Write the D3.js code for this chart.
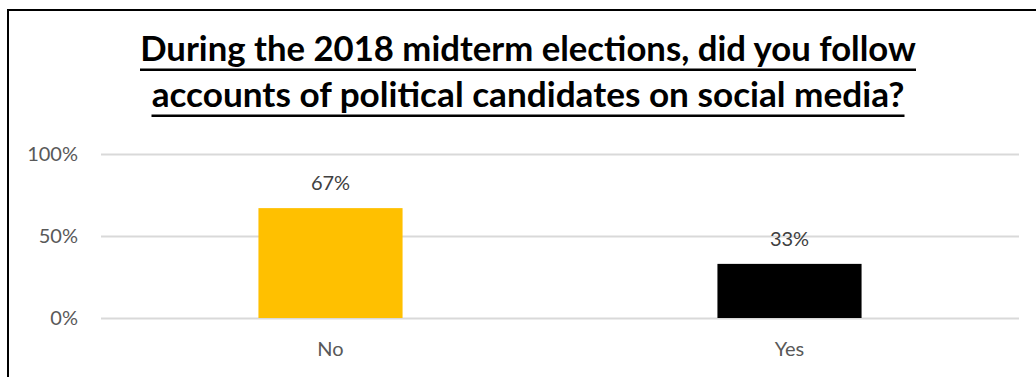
<!DOCTYPE html>
<html>
<head>
<meta charset="utf-8">
<script src="https://cdn.jsdelivr.net/npm/d3@7"></script>
<style>
  html, body { margin: 0; padding: 0; background: #fff; }
  svg { display: block; }
  text { font-family: Lato, "Open Sans", sans-serif; }
</style>
</head>
<body>
<svg id="chart" width="1036" height="377"></svg>
<script>
// Survey answers and their shares
const categories = ["No", "Yes"];
const shares = [0.67, 0.33];
const barColors = ["#FFC000", "#000000"];
const tickValues = [0, 0.5, 1];
const titleLines = [
  "During the 2018 midterm elections, did you follow",
  "accounts of political candidates on social media?"
];

const svg = d3.select("#chart");
const W = 1036, H = 377;
const plot = { left: 101, right: 1019, top: 154, bottom: 318 };

// Chart frame (left and top edges visible)
svg.append("line").attr("x1", 8).attr("x2", 8).attr("y1", 10).attr("y2", H)
  .attr("stroke", "#000").attr("stroke-width", 2);
svg.append("line").attr("x1", 7).attr("x2", W).attr("y1", 10).attr("y2", 10)
  .attr("stroke", "#000").attr("stroke-width", 2);

// Title, bold and underlined, each line fitted to its width
const titleCenter = 528;
const titleWidths = [776, 753];
const titleBaselines = [61, 107];
titleLines.forEach((line, i) => {
  const t = svg.append("text")
    .attr("x", titleCenter).attr("y", titleBaselines[i])
    .attr("text-anchor", "middle")
    .attr("font-weight", 700)
    .attr("font-size", 28)
    .attr("fill", "#000")
    .text(line);
  const len = t.node().getComputedTextLength();
  t.attr("font-size", 28 * titleWidths[i] / len);
  svg.append("rect")
    .attr("x", titleCenter - titleWidths[i] / 2)
    .attr("width", titleWidths[i])
    .attr("y", titleBaselines[i] + 7.5)
    .attr("height", 2.5)
    .attr("fill", "#000");
});

// Scales
const x = d3.scaleBand()
  .domain(categories)
  .range([plot.left, plot.right])
  .paddingInner(0.686)
  .paddingOuter(0.343);
const y = d3.scaleLinear().domain([0, 1]).range([plot.bottom, plot.top]);

// Gridlines and value axis
const yAxis = d3.axisLeft(y)
  .tickValues(tickValues)
  .tickFormat(d3.format(".0%"))
  .tickSize(-(plot.right - plot.left))
  .tickPadding(23);
const gy = svg.append("g").attr("transform", `translate(${plot.left},0)`).call(yAxis);
gy.select(".domain").remove();
gy.selectAll(".tick line").attr("stroke", "#d9d9d9").attr("stroke-width", 2);
gy.selectAll(".tick text")
  .attr("fill", "#595959")
  .attr("font-size", 20)
  .attr("font-family", "Lato, 'Open Sans', sans-serif");

// Bars
const data = categories.map((c, i) => ({ cat: c, value: shares[i], color: barColors[i] }));
svg.append("g").selectAll("rect").data(data).join("rect")
  .attr("x", d => x(d.cat))
  .attr("width", x.bandwidth())
  .attr("y", d => y(d.value))
  .attr("height", d => y(0) - y(d.value))
  .attr("fill", d => d.color);

// Value labels
svg.append("g").selectAll("text").data(data).join("text")
  .attr("x", d => x(d.cat) + x.bandwidth() / 2)
  .attr("y", d => y(d.value) - 18)
  .attr("text-anchor", "middle")
  .attr("fill", "#404040")
  .attr("font-size", 20)
  .text(d => d3.format(".0%")(d.value));

// Category axis
const xAxis = d3.axisBottom(x).tickSize(0).tickPadding(24);
const gx = svg.append("g").attr("transform", `translate(0,${plot.bottom})`).call(xAxis);
gx.select(".domain").remove();
gx.selectAll(".tick text")
  .attr("fill", "#595959")
  .attr("font-size", 20)
  .attr("font-family", "Lato, 'Open Sans', sans-serif");
</script>
</body>
</html>
